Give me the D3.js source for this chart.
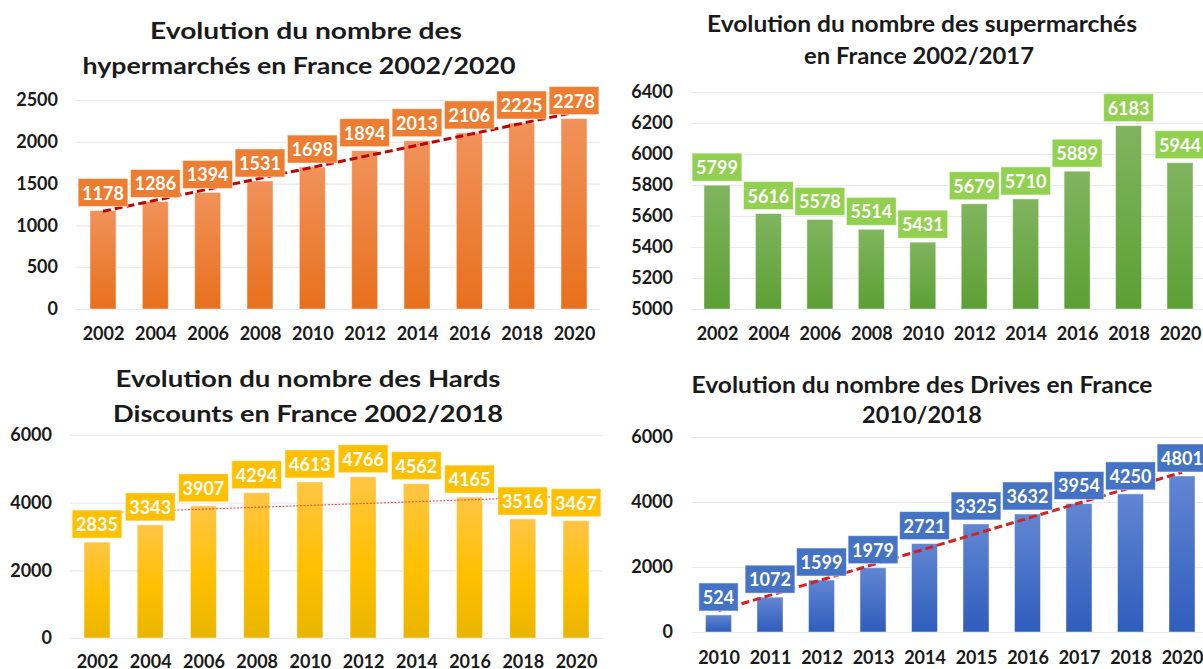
<!DOCTYPE html>
<html><head><meta charset="utf-8">
<script src="https://cdn.jsdelivr.net/npm/d3@7"></script>
<style>
body{margin:0;background:#fff}
svg{display:block}
text{font-family:Lato,'Open Sans',sans-serif;font-weight:700}
</style>
</head><body>
<svg id="c" width="1203" height="669"></svg>
<script>
// ---------- DATA ----------
const hyperYears = [2002,2004,2006,2008,2010,2012,2014,2016,2018,2020];
const hyperValues = [1178,1286,1394,1531,1698,1894,2013,2106,2225,2278];
const hyperTicks = [0,500,1000,1500,2000,2500];
const hyperTitle = ["Evolution du nombre des","hypermarchés en France 2002/2020"];

const superYears = [2002,2004,2006,2008,2010,2012,2014,2016,2018,2020];
const superValues = [5799,5616,5578,5514,5431,5679,5710,5889,6183,5944];
const superTicks = [5000,5200,5400,5600,5800,6000,6200,6400];
const superTitle = ["Evolution du nombre des supermarchés","en France 2002/2017"];

const hardYears = [2002,2004,2006,2008,2010,2012,2014,2016,2018,2020];
const hardValues = [2835,3343,3907,4294,4613,4766,4562,4165,3516,3467];
const hardTicks = [0,2000,4000,6000];
const hardTitle = ["Evolution du nombre des Hards","Discounts en France 2002/2018"];

const driveYears = [2010,2011,2012,2013,2014,2015,2016,2017,2018,2020];
const driveValues = [524,1072,1599,1979,2721,3325,3632,3954,4250,4801];
const driveTicks = [0,2000,4000,6000];
const driveTitle = ["Evolution du nombre des Drives en France","2010/2018"];

// ---------- LAYOUT ----------
const svg = d3.select("#c");
const defs = svg.append("defs");

function grad(id, stops){
  const g = defs.append("linearGradient").attr("id",id)
    .attr("x1",0).attr("y1",0).attr("x2",0).attr("y2",1);
  stops.forEach(s=>g.append("stop").attr("offset",s[0]).attr("stop-color",s[1]));
}
grad("gOrange",[[0,"#f1925a"],[1,"#e8701c"]]);
grad("gGreen",[[0,"#80b55f"],[1,"#5c9f34"]]);
grad("gYellow",[[0,"#ffc544"],[0.55,"#ffc000"],[1,"#e9b500"]]);
grad("gBlue",[[0,"#6186d2"],[1,"#2f5dbc"]]);

const panels = [
  {years:hyperYears, values:hyperValues, ticks:hyperTicks, title:hyperTitle,
   xr:[103,574], yr:[309,100], yd:[0,2500], gx:[76,600], tickPad:18, xLabY:340,
   fill:"url(#gOrange)", box:"#ed7d31",
   trend:{stroke:"#c00000", width:3, dash:"8,4"},
   titleX:[306,299], titleY:[39,74], titleW:[312,433]},
  {years:superYears, values:superValues, ticks:superTicks, title:superTitle,
   xr:[717,1180], yr:[309,92], yd:[5000,6400], gx:[691,1203], tickPad:18, xLabY:340,
   fill:"url(#gGreen)", box:"#92d050", trend:null,
   titleX:[922,919], titleY:[32,64], titleW:[430,230]},
  {years:hardYears, values:hardValues, ticks:hardTicks, title:hardTitle,
   xr:[97,576], yr:[638,435], yd:[0,6000], gx:[70,603], tickPad:18, xLabY:668,
   fill:"url(#gYellow)", box:"#ffc000",
   trend:{stroke:"#e04848", width:1, dash:"2,1.5"},
   titleX:[308,308], titleY:[387,422], titleW:[385,390]},
  {years:driveYears, values:driveValues, ticks:driveTicks, title:driveTitle,
   xr:[718.5,1182], yr:[632,437], yd:[0,6000], gx:[692,1203], tickPad:19, xLabY:664,
   fill:"url(#gBlue)", box:"#4472c4",
   trend:{stroke:"#d42020", width:3, dash:"8,4"},
   titleX:[922,922], titleY:[393,423], titleW:[461,120]}
];

panels.forEach(p=>{
  const g = svg.append("g");
  const x = d3.scalePoint().domain(p.years).range(p.xr);
  const y = d3.scaleLinear().domain(p.yd).range(p.yr);

  // title
  p.title.forEach((t,i)=>{
    g.append("text").attr("x",p.titleX[i]).attr("y",p.titleY[i])
      .attr("text-anchor","middle").attr("fill","#1a1a1a")
      .attr("textLength",p.titleW[i]).attr("lengthAdjust","spacingAndGlyphs")
      .style("font-size","23px").text(t);
  });

  // y axis + gridlines
  const ya = g.append("g").attr("transform",`translate(${p.gx[0]},0)`)
    .call(d3.axisLeft(y).tickValues(p.ticks).tickFormat(d3.format("d"))
      .tickSize(-(p.gx[1]-p.gx[0])).tickPadding(p.tickPad));
  ya.select(".domain").remove();
  ya.selectAll(".tick line").attr("stroke","#e9eaee").attr("stroke-width",1.2);
  ya.selectAll(".tick text").attr("fill","#1a1a1a").style("font-size","18px")
    .style("font-family","Lato,'Open Sans',sans-serif").style("font-weight",700);

  // x axis labels
  const xa = g.append("g").attr("transform",`translate(0,${p.xLabY})`)
    .call(d3.axisBottom(x).tickSize(0).tickPadding(0).tickFormat(d3.format("d")));
  xa.select(".domain").remove();
  xa.selectAll(".tick text").attr("y",0).attr("dy",0).attr("fill","#1a1a1a")
    .style("font-size","18px").style("font-family","Lato,'Open Sans',sans-serif").style("font-weight",700);

  // bars
  const base = y(p.yd[0]);
  g.append("g").selectAll("rect").data(p.values).join("rect")
    .attr("x",(d,i)=>x(p.years[i])-13).attr("width",26)
    .attr("y",d=>y(d)).attr("height",d=>base-y(d))
    .attr("fill",p.fill).attr("stroke","#ffffff").attr("stroke-opacity",0.45).attr("stroke-width",1);

  // trend line (least squares on category index)
  if(p.trend){
    const n = p.values.length;
    const mx = (n-1)/2, my = d3.mean(p.values);
    let sxy=0, sxx=0;
    p.values.forEach((v,i)=>{sxy+=(i-mx)*(v-my); sxx+=(i-mx)*(i-mx);});
    const b = sxy/sxx, a = my-b*mx;
    g.append("line")
      .attr("x1",x(p.years[0])).attr("y1",y(a))
      .attr("x2",x(p.years[n-1])).attr("y2",y(a+b*(n-1)))
      .attr("stroke",p.trend.stroke).attr("stroke-width",p.trend.width)
      .attr("stroke-dasharray",p.trend.dash);
  }

  // data labels with boxes
  const lg = g.append("g");
  p.values.forEach((v,i)=>{
    const cx = x(p.years[i]);
    const bottom = y(v)-4;
    const grp = lg.append("g");
    const r = grp.append("rect");
    const t = grp.append("text").attr("x",cx).attr("y",bottom-14)
      .attr("text-anchor","middle").attr("dominant-baseline","central")
      .attr("fill","#fff").style("font-size","18px").text(v);
    const w = t.node().getComputedTextLength()+8;
    r.attr("x",cx-w/2).attr("y",bottom-28).attr("width",w).attr("height",28)
      .attr("fill",p.box).attr("stroke","#ffffff").attr("stroke-opacity",0.5).attr("stroke-width",1);
  });
});
</script>
</body></html>
